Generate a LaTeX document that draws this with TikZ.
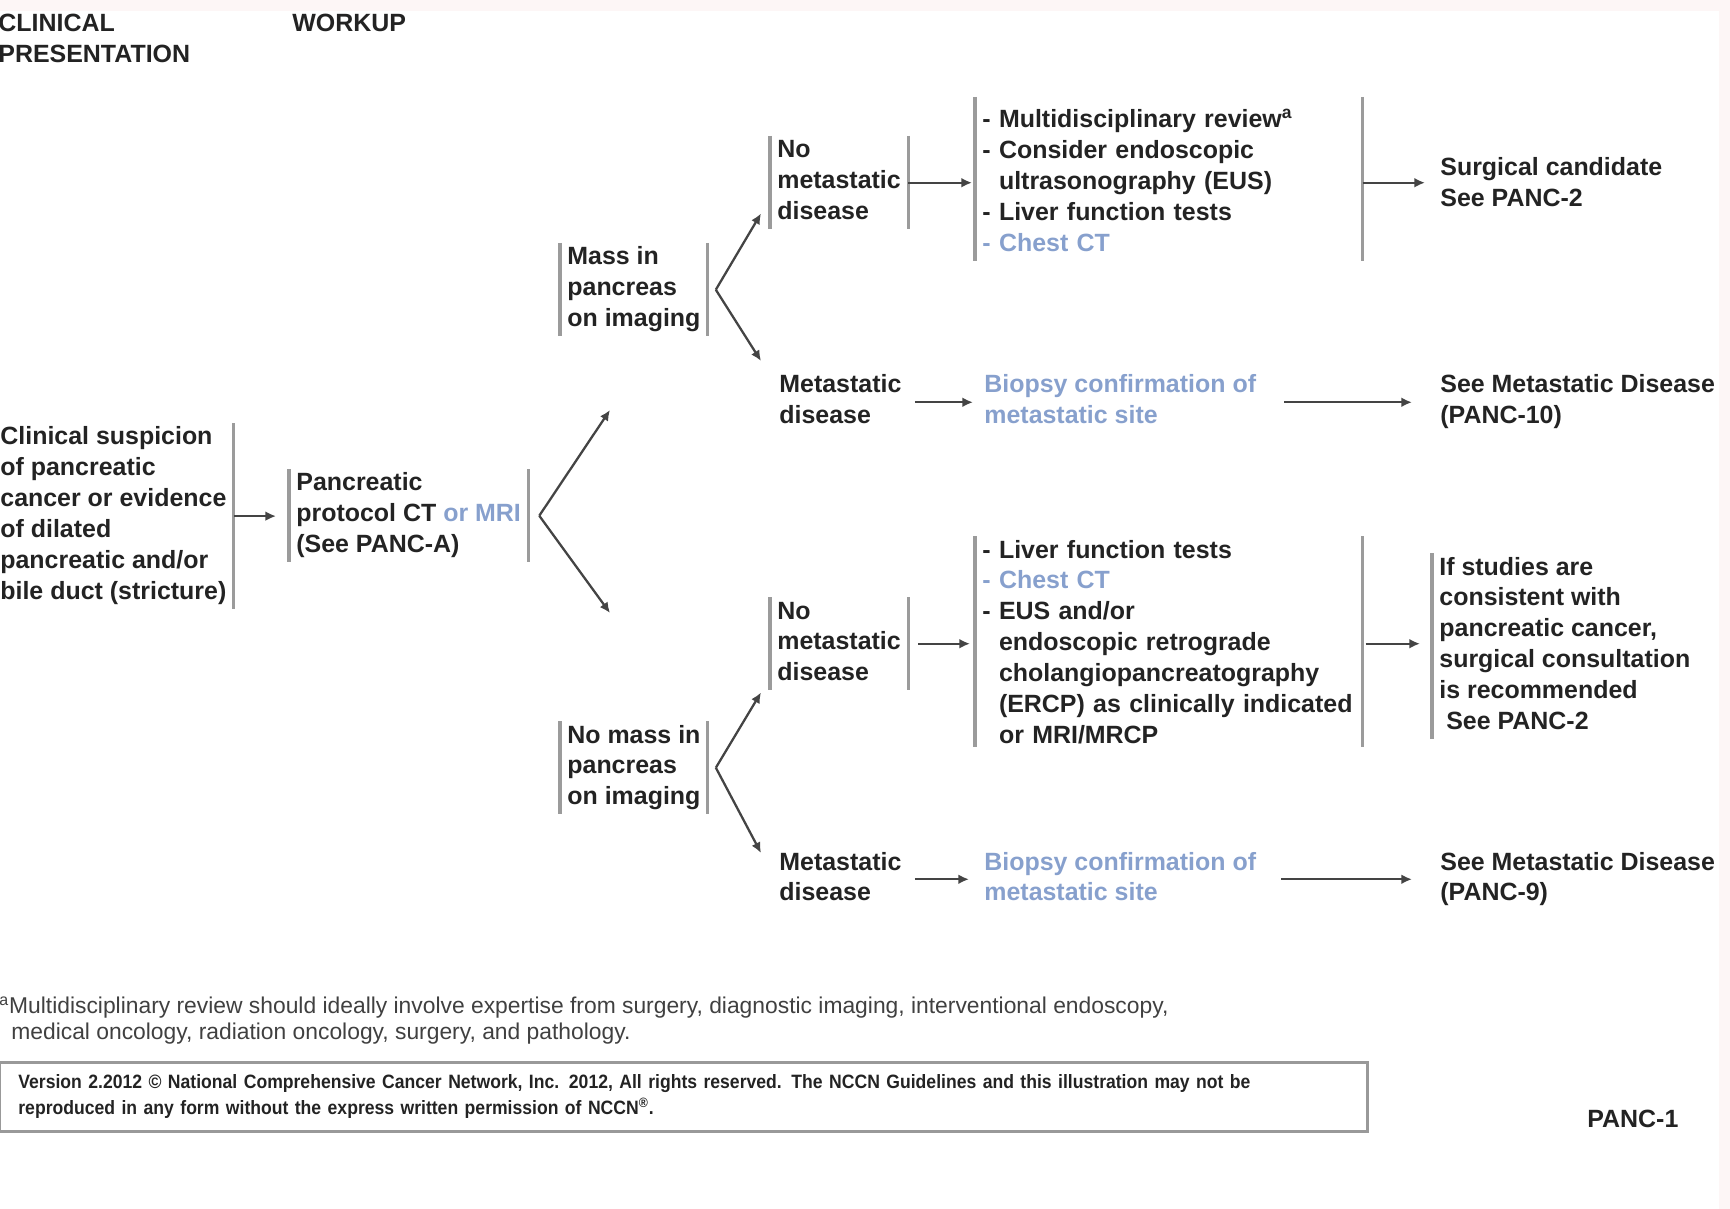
\documentclass[tikz,border=0pt]{standalone}
\usepackage{fontspec}
\setmainfont{Liberation Sans}
\newfontfamily\noticefont[FakeStretch=0.91]{Liberation Sans}
\usepackage{tikz}
\usetikzlibrary{arrows.meta, positioning}
\usepackage{xcolor}
\definecolor{linkblue}{RGB}{135,160,205}
\definecolor{bargray}{RGB}{155,155,155}
\definecolor{ink}{RGB}{35,35,35}
\definecolor{edgepink}{RGB}{253,246,246}
\newcommand{\gap}{\hphantom{-\ }}
\tikzset{%
	txt/.style={
		anchor=north west,
		align=left,
		inner xsep=4pt,
		inner ysep=0pt,
		text=ink,
		font=\fontsize{14.2}{17.6}\selectfont\bfseries,
		execute at begin node=\strut,
		execute at end node=\strut
	},
	list/.style={
		text width=7.46cm
	},
	bar/.style={
		draw=bargray,
		line width=1.8pt
	},
	link/.style={
		draw=ink!85,
		line width=1.3pt,
		-{Latex[length=6pt,width=5.5pt]}
	},
	note/.style={
		anchor=north west,
		align=left,
		inner sep=0pt,
		text=black!75,
		font=\fontsize{13}{14.7}\selectfont,
		execute at end node=\strut
	},
	notice/.style={
		anchor=north west,
		draw=gray!80,
		line width=1.6pt,
		align=left,
		text width=26.6cm,
		inner xsep=0.38cm,
		minimum height=1.38cm,
		text=ink,
		font=\noticefont\bfseries\fontsize{11}{14.7}\selectfont
	},
}
\begin{document}
\begin{tikzpicture}[x=0.02cm, y=-0.02cm]
	\useasboundingbox (0,0) rectangle (1730,1209);
	\fill[edgepink] (0,0) rectangle (1730,11);
	\fill[edgepink] (1719,0) rectangle (1730,1209);

	% Column heads
	\node[txt] (clinhead) at (-9,10) {\strut CLINICAL\\PRESENTATION};
	\node[txt] (workhead) at (285,10) {WORKUP};

	% Presentation and first workup
	\node[txt] (suspicion) at (-7,423) {\strut Clinical suspicion\\of pancreatic\\cancer or evidence\\of dilated\\pancreatic and/or\\bile duct (stricture)};
	\node[txt] (protocol) at (289,469) {\strut Pancreatic\\protocol CT \textcolor{linkblue}{or MRI}\\(See PANC-A)};

	% Imaging findings
	\node[txt] (mass) at (560,243) {\strut Mass in\\pancreas\\on imaging};
	\node[txt] (nomass) at (560,721) {\strut No mass in\\pancreas\\on imaging};

	% Upper branch
	\node[txt] (nometA) at (770,136) {\strut No\\metastatic\\disease};
	\node[txt, list] (workA) at (975,106) {- Multidisciplinary review\textsuperscript{a}\\- Consider endoscopic\\\gap ultrasonography (EUS)\\- Liver function tests\\\textcolor{linkblue}{- Chest CT}};
	\node[txt] (surgery) at (1433,154) {\strut Surgical candidate\\See PANC-2};
	\node[txt] (metA) at (772,371) {\strut Metastatic\\disease};
	\node[txt, text=linkblue] (biopsyA) at (977,371) {\strut Biopsy confirmation of\\metastatic site};
	\node[txt] (seeA) at (1433,371) {\strut See Metastatic Disease\\(PANC-10)};

	% Lower branch
	\node[txt] (nometB) at (770,597) {\strut No\\metastatic\\disease};
	\node[txt, list] (workB) at (975,536) {- Liver function tests\\\textcolor{linkblue}{- Chest CT}\\- EUS and/or\\\gap endoscopic retrograde\\\gap cholangiopancreatography\\\gap (ERCP) as clinically indicated\\\gap or MRI/MRCP};
	\node[txt] (consult) at (1432,553) {\strut If studies are\\consistent with\\pancreatic cancer,\\surgical consultation\\is recommended\\\ See PANC-2};
	\node[txt] (metB) at (772,848) {\strut Metastatic\\disease};
	\node[txt, text=linkblue] (biopsyB) at (977,848) {\strut Biopsy confirmation of\\metastatic site};
	\node[txt] (seeB) at (1433,848) {\strut See Metastatic Disease\\(PANC-9)};

	% Side bars
	\foreach \n in {protocol,mass,nomass,nometA,nometB,consult}
		\draw[bar] (\n.north west) -- (\n.south west);
	\foreach \n in {suspicion,protocol,mass,nomass,nometA,nometB}
		\draw[bar] (\n.north east) -- (\n.south east);
	\foreach \a in {west,east}{
		\draw[bar] ([shift={(0,-9)}]workA.north \a) -- (workA.south \a);
		\draw[bar] (workB.north \a) -- ([shift={(0,-6)}]workB.south \a);
	}

	% Forks
	\coordinate (upfree) at (610,410);
	\coordinate (downfree) at (610,613);
	\draw[link] ([shift={(11,0)}]protocol.east) -- (upfree);
	\draw[link] ([shift={(11,0)}]protocol.east) -- (downfree);
	\draw[link] ([shift={(8,0)}]mass.east) -- ([shift={(-9,-16)}]nometA.south west);
	\draw[link] ([shift={(8,0)}]mass.east) -- ([shift={(-11,-10)}]metA.north west);
	\draw[link] ([shift={(8,0)}]nomass.east) -- ([shift={(-9,2)}]nometB.south west);
	\draw[link] ([shift={(8,0)}]nomass.east) -- ([shift={(-11,5)}]metB.north west);

	% Straight arrows
	\draw[link, shorten >=0.26cm] (suspicion.east) -- (suspicion.east -| protocol.west);
	\draw[link, shorten >=0.06cm] (nometA.east) -- (nometA.east -| workA.west);
	\draw[link, shorten >=0.16cm] (workA.east |- nometA.east) -- (nometA.east -| surgery.west);
	\draw[link, shorten <=0.12cm, shorten >=0.08cm] (metA.east) -- (metA.east -| biopsyA.west);
	\draw[link, shorten <=0.42cm, shorten >=0.42cm] (biopsyA.east) -- (biopsyA.east -| seeA.west);
	\draw[link, shorten <=0.2cm, shorten >=0.1cm] (nometB.east) -- (nometB.east -| workB.west);
	\draw[link, shorten <=0.06cm, shorten >=0.24cm] (workB.east |- nometB.east) -- (nometB.east -| consult.west);
	\draw[link, shorten <=0.12cm, shorten >=0.16cm] (metB.east) -- (metB.east -| biopsyB.west);
	\draw[link, shorten <=0.36cm, shorten >=0.42cm] (biopsyB.east) -- (biopsyB.east -| seeB.west);

	% Footnote and notice
	\node[note] (footnote) at (-1,995) {\strut\textsuperscript{a}Multidisciplinary review should ideally involve expertise from surgery, diagnostic imaging, interventional endoscopy,\\\hspace*{0.24cm}medical oncology, radiation oncology, surgery, and pathology.};
	\node[notice] (rights) at (-2,1061) {Version 2.2012 \textcopyright{} National Comprehensive Cancer Network, Inc. 2012, All rights reserved. The NCCN Guidelines and this illustration may not be\\reproduced in any form without the express written permission of NCCN\textsuperscript{\textregistered}.};
	\node[txt] (page) at (1580,1105) {PANC-1};
\end{tikzpicture}
\end{document}
